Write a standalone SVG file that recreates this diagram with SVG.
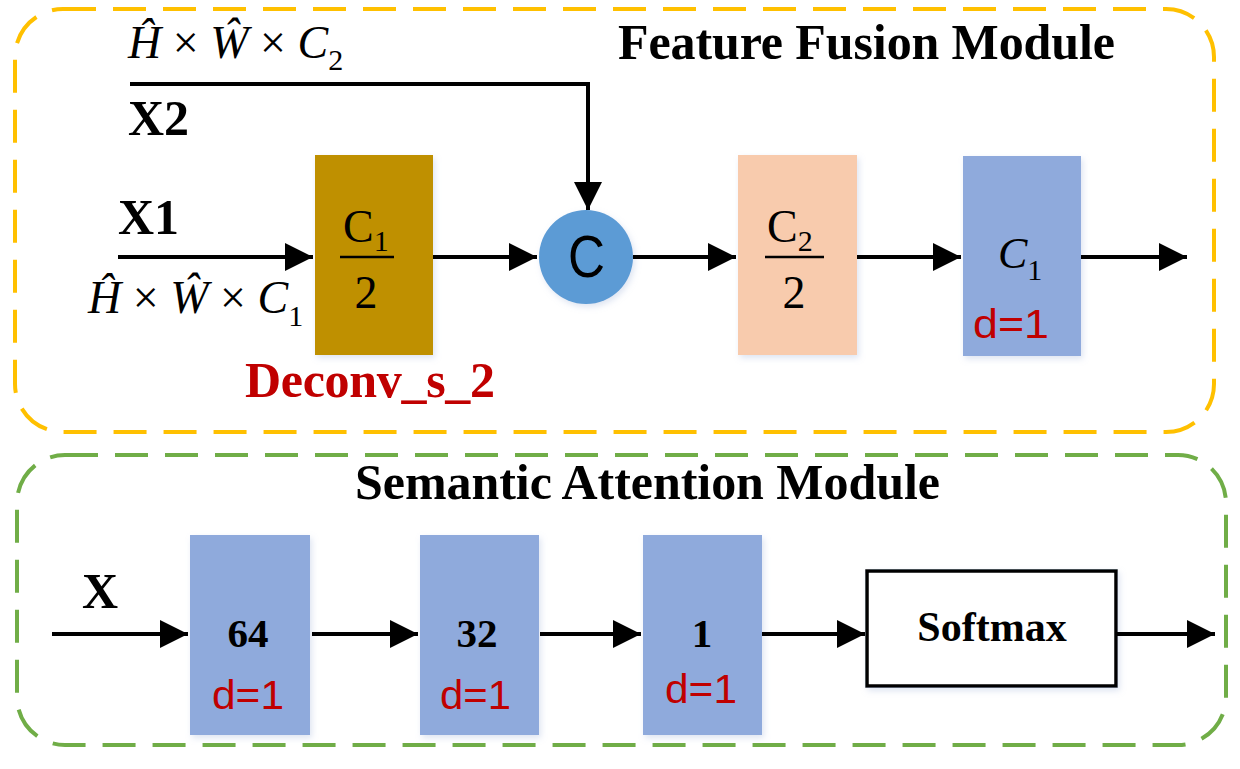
<svg xmlns="http://www.w3.org/2000/svg" width="1240" height="769" viewBox="0 0 1240 769">
<style>
.serif{font-family:"Liberation Serif","Times New Roman",serif;fill:#000}
.bold{font-weight:bold}
.it{font-style:italic}
.red{fill:#C00000}
.sans{font-family:"Liberation Sans","Noto Sans",Arial,sans-serif}
.conn{stroke:#000;stroke-width:4;fill:none;marker-end:url(#ah)}
.blue{fill:#8FAADC}
</style>
<defs>
<marker id="ah" markerWidth="8" markerHeight="8" refX="7" refY="3.5" orient="auto" markerUnits="strokeWidth">
<path d="M0,0 L7,3.5 L0,7 Z" fill="#000"/>
</marker>
<filter id="sh" x="-10%" y="-10%" width="130%" height="130%">
<feDropShadow dx="2" dy="3" stdDeviation="3" flood-color="#9fb4d8" flood-opacity="0.35"/>
</filter>
</defs>

<g id="ffm-frame">
<rect x="15" y="9" width="1199" height="423" rx="48" ry="48" fill="none" stroke="#FFC000" stroke-width="4" stroke-dasharray="33,17"/>
<text x="618" y="59" class="serif bold" font-size="50" textLength="497">Feature Fusion Module</text>
</g>

<g id="sam-frame">
<rect x="17" y="455" width="1209" height="290" rx="48" ry="48" fill="none" stroke="#70AD47" stroke-width="4" stroke-dasharray="33,17"/>
<text x="355" y="499" class="serif bold" font-size="50" textLength="585">Semantic Attention Module</text>
</g>

<g id="x2-label">
<text x="128" y="58" class="serif it" font-size="46">Ĥ <tspan font-style="normal">×</tspan> Ŵ <tspan font-style="normal">×</tspan> C<tspan font-style="normal" font-size="30" dy="12">2</tspan></text>
<text x="128" y="135" class="serif bold" font-size="50">X2</text>
</g>

<g id="x1-label">
<text x="118" y="234" class="serif bold" font-size="50">X1</text>
<text x="88" y="313" class="serif it" font-size="46">Ĥ <tspan font-style="normal">×</tspan> Ŵ <tspan font-style="normal">×</tspan> C<tspan font-style="normal" font-size="30" dy="13">1</tspan></text>
</g>

<g id="deconv">
<rect x="315" y="155" width="118" height="200" fill="#BF9000" filter="url(#sh)"/>
<text x="343" y="242" class="serif" font-size="46">C<tspan font-size="30" dy="9">1</tspan></text>
<line x1="340" y1="257" x2="394" y2="257" stroke="#000" stroke-width="2.5"/>
<text x="366" y="308" class="serif" font-size="46" text-anchor="middle">2</text>
<text x="245" y="397" class="serif bold red" font-size="50" textLength="250">Deconv_s_2</text>
</g>

<g id="concat">
<circle cx="586" cy="257" r="47" fill="#5B9BD5" filter="url(#sh)"/>
<text x="568" y="277" class="sans" font-size="60" textLength="37" lengthAdjust="spacingAndGlyphs">C</text>
</g>

<g id="conv-c2">
<rect x="738" y="155" width="119" height="200" fill="#F8CBAD" filter="url(#sh)"/>
<text x="767" y="242" class="serif" font-size="46">C<tspan font-size="30" dy="9">2</tspan></text>
<line x1="765" y1="257" x2="824" y2="257" stroke="#000" stroke-width="2.5"/>
<text x="794" y="308" class="serif" font-size="46" text-anchor="middle">2</text>
</g>

<g id="conv-c1">
<rect x="963" y="156" width="118" height="200" class="blue" filter="url(#sh)"/>
<text x="998" y="268" class="serif it" font-size="44">C<tspan font-style="normal" font-size="30" dy="12">1</tspan></text>
<text x="973" y="338" class="sans red" font-size="40" textLength="76" lengthAdjust="spacingAndGlyphs">d=1</text>
</g>

<g id="x-label">
<text x="82" y="608" class="serif bold" font-size="50">X</text>
</g>

<g id="conv64">
<rect x="190" y="535" width="120" height="200" class="blue" filter="url(#sh)"/>
<text x="248" y="647" class="serif bold" font-size="41" text-anchor="middle">64</text>
<text x="212" y="709" class="sans red" font-size="40" textLength="72" lengthAdjust="spacingAndGlyphs">d=1</text>
</g>

<g id="conv32">
<rect x="420" y="535" width="119" height="200" class="blue" filter="url(#sh)"/>
<text x="477" y="647" class="serif bold" font-size="41" text-anchor="middle">32</text>
<text x="440" y="709" class="sans red" font-size="40" textLength="71" lengthAdjust="spacingAndGlyphs">d=1</text>
</g>

<g id="conv1">
<rect x="643" y="535" width="119" height="200" class="blue" filter="url(#sh)"/>
<text x="702" y="647" class="serif bold" font-size="41" text-anchor="middle">1</text>
<text x="665" y="703" class="sans red" font-size="40" textLength="72" lengthAdjust="spacingAndGlyphs">d=1</text>
</g>

<g id="softmax">
<rect x="867" y="571" width="249" height="115" fill="#fff" stroke="#000" stroke-width="3.5" filter="url(#sh)"/>
<text x="992" y="641" class="serif bold" font-size="42" text-anchor="middle">Softmax</text>
</g>

<g id="connectors">
<path class="conn" d="M130,84 H588 V210"/>
<path class="conn" d="M118,257 H313"/>
<path class="conn" d="M433,257 H537"/>
<path class="conn" d="M633,257 H736"/>
<path class="conn" d="M857,257 H961"/>
<path class="conn" d="M1081,257 H1187"/>
<path class="conn" d="M52,634 H188"/>
<path class="conn" d="M312,634 H418"/>
<path class="conn" d="M540,634 H641"/>
<path class="conn" d="M762,634 H865"/>
<path class="conn" d="M1116,634 H1215"/>
</g>
</svg>
